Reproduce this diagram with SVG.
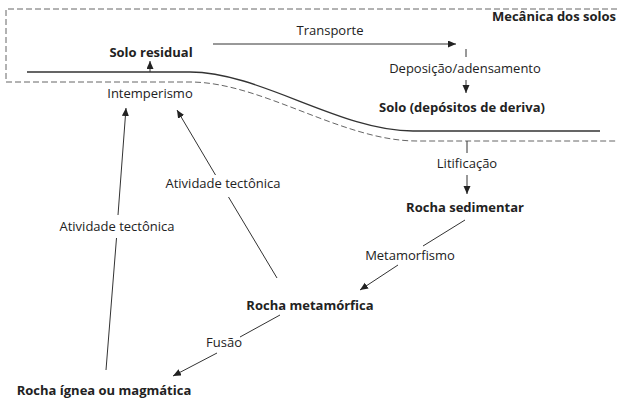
<svg xmlns="http://www.w3.org/2000/svg" width="617" height="399" viewBox="0 0 617 399">
<style>
text{font-family:"Open Sans","Noto Sans",sans-serif;font-size:13px;fill:#222;text-anchor:middle}
.b{font-weight:bold}
.ln{stroke:#333;stroke-width:1;fill:none}
.ground{stroke:#333;stroke-width:1.4;fill:none}
.dash{stroke:#666;stroke-width:1;fill:none;stroke-dasharray:6,3}
</style>
<defs>
<marker id="ah" markerUnits="userSpaceOnUse" markerWidth="9" markerHeight="8" refX="8" refY="3.5" orient="auto">
<path d="M0,0 L8,3.5 L0,7 z" fill="#222"/>
</marker>
</defs>
<g id="boundary">
<path class="dash" d="M617,9 H6 V82 H190 C262,82 342,141 417,141 H617"/>
<path class="ground" d="M27,72 H190 C260,72 340,131 413,131 H600"/>
<text class="b" x="554" y="21">Mecânica dos solos</text>
</g>
<g id="solo-residual"><text class="b" x="151" y="57">Solo residual</text></g>
<g id="intemperismo"><text x="150" y="98">Intemperismo</text></g>
<g id="solo-deriva"><text class="b" x="462" y="112">Solo (depósitos de deriva)</text></g>
<g id="rocha-sedimentar"><text class="b" x="465" y="212">Rocha sedimentar</text></g>
<g id="rocha-metamorfica"><text class="b" x="310" y="310">Rocha metamórfica</text></g>
<g id="rocha-ignea"><text class="b" x="104" y="395">Rocha ígnea ou magmática</text></g>
<g id="connectors">
<line class="ln" x1="150" y1="72" x2="150" y2="61" marker-end="url(#ah)"/>
<line class="ln" x1="213" y1="44" x2="456" y2="44" marker-end="url(#ah)"/>
<text x="330" y="35">Transporte</text>
<line class="ln" x1="466" y1="49" x2="466" y2="57"/>
<text x="465" y="73">Deposição/adensamento</text>
<line class="ln" x1="466" y1="80" x2="466" y2="93" marker-end="url(#ah)"/>
<line class="ln" x1="467" y1="141" x2="467" y2="153"/>
<text x="467" y="168">Litificação</text>
<line class="ln" x1="467" y1="175" x2="467" y2="194" marker-end="url(#ah)"/>
<line class="ln" x1="465" y1="220" x2="423" y2="246"/>
<text x="410" y="260">Metamorfismo</text>
<line class="ln" x1="398" y1="265" x2="360" y2="290" marker-end="url(#ah)"/>
<line class="ln" x1="280" y1="315" x2="240" y2="337"/>
<text x="224" y="347">Fusão</text>
<line class="ln" x1="217" y1="353" x2="173" y2="376" marker-end="url(#ah)"/>
<line class="ln" x1="106" y1="370" x2="116.5" y2="238"/>
<text x="117" y="231">Atividade tectônica</text>
<line class="ln" x1="118" y1="215" x2="126" y2="108" marker-end="url(#ah)"/>
<line class="ln" x1="277" y1="278" x2="228.5" y2="197"/>
<text x="223" y="188">Atividade tectônica</text>
<line class="ln" x1="215.5" y1="175" x2="177" y2="110" marker-end="url(#ah)"/>
</g>
</svg>
